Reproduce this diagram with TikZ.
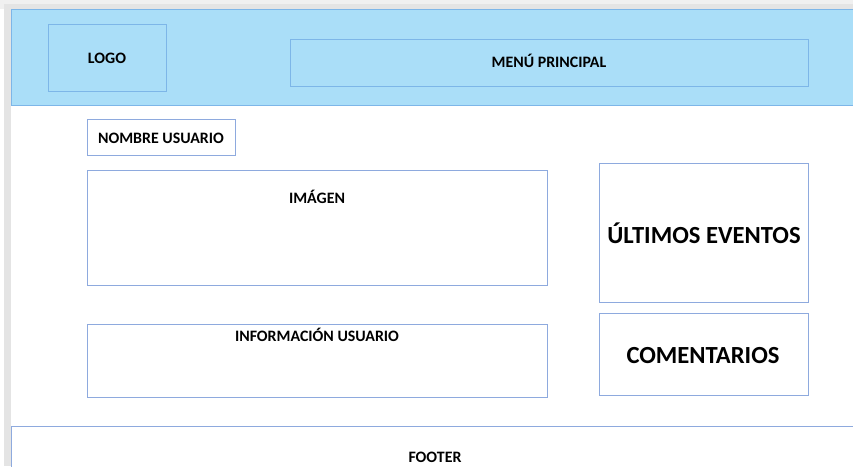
\documentclass[tikz,border=0pt]{standalone}
\usepackage{fontspec}
\setmainfont{Carlito}
\definecolor{hdrfill}{RGB}{170,222,248}
\definecolor{hdrline}{RGB}{125,182,232}
\definecolor{boxline}{RGB}{142,170,222}
\definecolor{frame}{RGB}{228,228,228}
\definecolor{framelt}{RGB}{240,240,240}
\begin{document}
\begin{tikzpicture}[x=1pt,y=-1pt,
  hdrbox/.style={draw=hdrline,line width=1pt,fill=hdrfill,inner sep=0pt,outer sep=0pt},
  pagebox/.style={draw=boxline,line width=1pt,fill=white,inner sep=0pt,outer sep=0pt},
  small/.style={font=\fontsize{15.9}{18}\selectfont\bfseries,inner sep=0pt,anchor=base},
  big/.style={font=\fontsize{24.6}{28}\selectfont\bfseries,inner sep=0pt,anchor=base}]
\useasboundingbox (0,0) rectangle (853,466);
% window frame
\fill[framelt] (0,0) rectangle (853,9);
\fill[frame] (4,4) rectangle (853,9);
\fill[frame] (4,4) rectangle (11,466);
% header
\path[hdrbox] (11,9.5) rectangle (856,105);
\path[hdrbox] (48,24) rectangle (166,91);
\path[hdrbox] (290,39) rectangle (808,86);
% content boxes
\path[pagebox] (87,119) rectangle (235,155);
\path[pagebox] (87,170) rectangle (547,285);
\path[pagebox] (87,324) rectangle (547,397);
\path[pagebox] (599,163) rectangle (808,302);
\path[pagebox] (599,313) rectangle (808,395);
\path[pagebox] (11,426) rectangle (858,470);
% texts
\node[small] (logo) at (107,63) {LOGO};
\node[small] (menu) at (549,67) {MENÚ PRINCIPAL};
\node[small] (nombre) at (161,143) {NOMBRE USUARIO};
\node[small] (imagen) at (317,203) {IMÁGEN};
\node[small] (info) at (317,341) {INFORMACIÓN USUARIO};
\node[big] (eventos) at (704,243) {ÚLTIMOS EVENTOS};
\node[big] (coment) at (703,363) {COMENTARIOS};
\node[small] (footer) at (435,462) {FOOTER};
\end{tikzpicture}
\end{document}
